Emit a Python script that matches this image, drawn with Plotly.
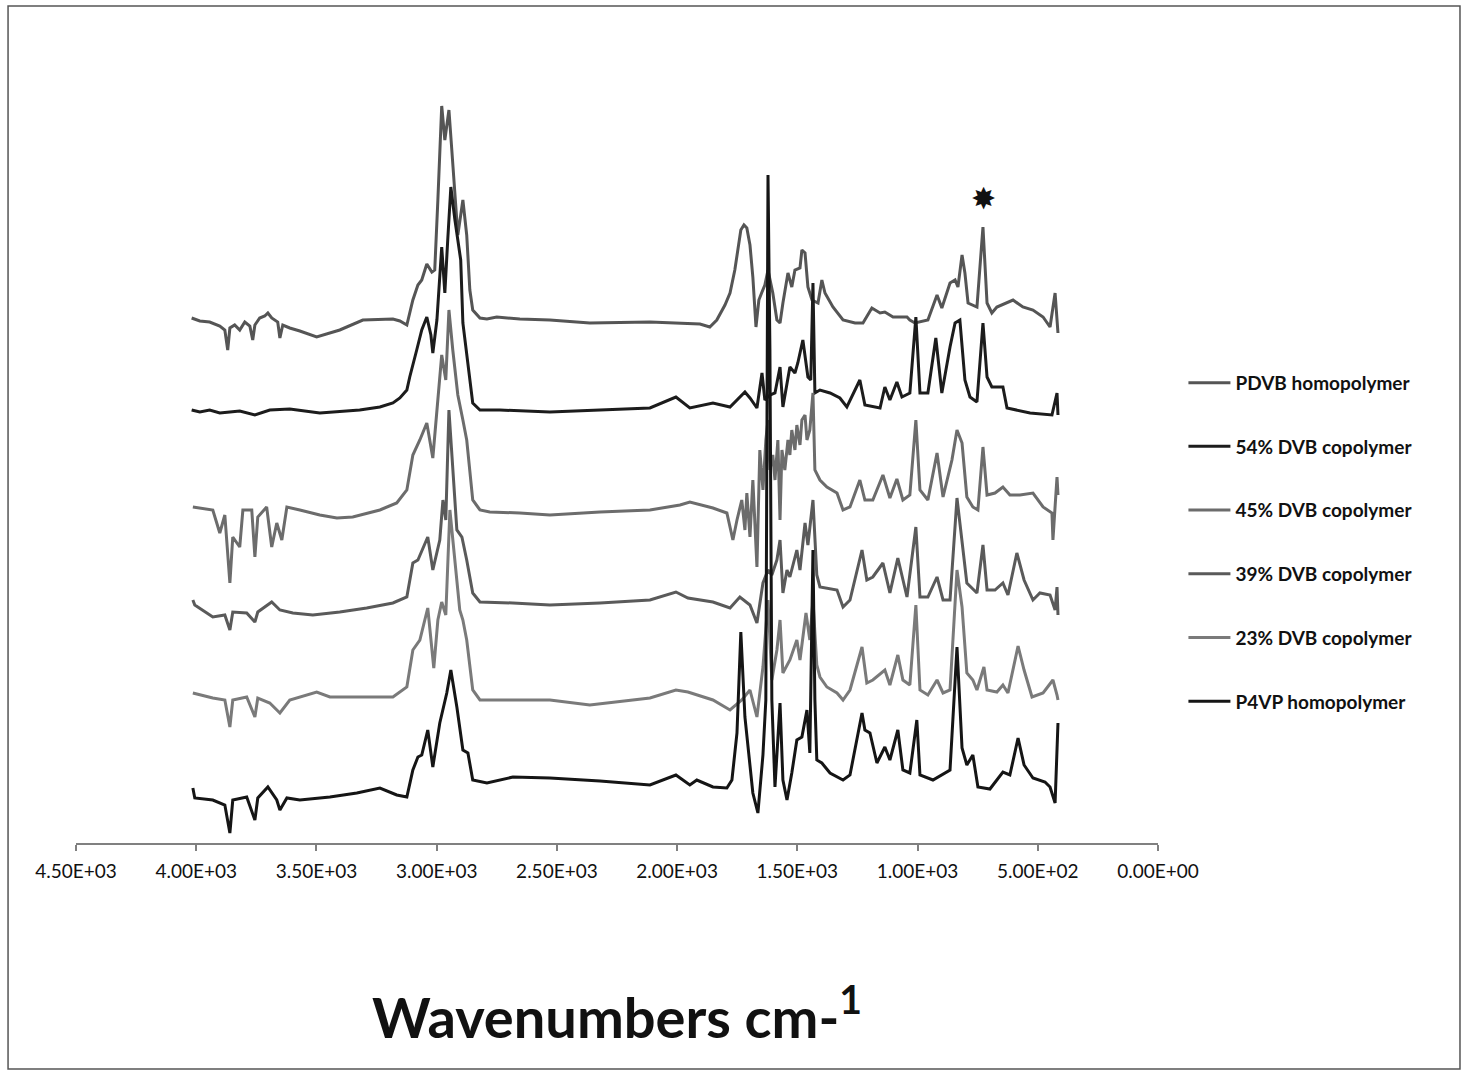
import plotly.graph_objects as go

# ---------------- data (wavenumber cm-1, stacked absorbance a.u.) ----------------
series_names = ["PDVB homopolymer", "54% DVB copolymer", "45% DVB copolymer",
                "39% DVB copolymer", "23% DVB copolymer", "P4VP homopolymer"]

pdvb_wn = [4019, 3985, 3944, 3902, 3881, 3869, 3860, 3840, 3819, 3798, 3777, 3765, 3756, 3736, 3715, 3702,
           3686, 3661, 3652, 3640, 3611, 3569, 3499, 3403, 3307, 3182, 3153, 3124, 3099, 3078, 3062, 3041,
           3020, 3008, 2995, 2979, 2966, 2958, 2949, 2937, 2924, 2912, 2891, 2875, 2862, 2850, 2820, 2791,
           2750, 2654, 2529, 2363, 2113, 1988, 1905, 1864, 1835, 1801, 1780, 1760, 1747, 1735, 1722, 1710,
           1697, 1685, 1672, 1660, 1647, 1635, 1622, 1602, 1585, 1572, 1560, 1539, 1523, 1510, 1489, 1481,
           1468, 1456, 1439, 1414, 1398, 1385, 1352, 1310, 1260, 1227, 1190, 1156, 1136, 1102, 1044, 1032,
           1011, 957, 919, 899, 865, 844, 832, 815, 803, 790, 753, 728, 711, 691, 670, 603, 562, 520, 478,
           449, 428, 416]
pdvb_abs = [525, 522, 521, 517, 513, 493, 515, 518, 513, 521, 517, 503, 518, 525, 527, 530,
            525, 521, 505, 518, 515, 512, 506, 513, 523, 524, 522, 518, 543, 558, 563, 579,
            571, 573, 643, 737, 703, 718, 733, 693, 643, 608, 643, 608, 553, 533, 525, 524,
            526, 524, 523, 520, 521, 520, 519, 516, 523, 538, 550, 573, 593, 613, 618, 615,
            598, 566, 516, 543, 551, 558, 573, 550, 523, 520, 540, 570, 556, 573, 575, 593,
            590, 556, 543, 540, 563, 550, 536, 523, 520, 520, 535, 530, 531, 526, 526, 523,
            520, 523, 548, 535, 560, 563, 556, 588, 570, 540, 536, 616, 540, 530, 536, 543, 536, 533, 526,
            516, 550, 510]

dvb54_wn = [4019, 3985, 3944, 3902, 3860, 3819, 3756, 3694, 3611, 3486, 3320, 3236, 3182, 3153, 3124, 3112,
            3083, 3062, 3041, 3024, 3016, 2999, 2979, 2966, 2954, 2941, 2924, 2912, 2900, 2891, 2875, 2862,
            2850, 2820, 2737, 2529, 2321, 2113, 2005, 1947, 1851, 1780, 1718, 1697, 1668, 1647, 1635, 1614,
            1593, 1572, 1560, 1531, 1510, 1498, 1477, 1456, 1444, 1435, 1427, 1406, 1364, 1323, 1294, 1240,
            1219, 1156, 1136, 1115, 1086, 1065, 1032, 1007, 990, 957, 924, 899, 865, 844, 824, 803, 782, 753,
            728, 711, 691, 645, 628, 587, 532, 441, 420, 416]
dvb54_abs = [433, 431, 433, 430, 431, 432, 428, 433, 434, 430, 433, 436, 440, 445, 453, 466,
             493, 513, 526, 508, 490, 523, 596, 550, 603, 656, 623, 603, 583, 520, 490, 463,
             440, 433, 433, 431, 433, 435, 446, 435, 440, 436, 451, 445, 435, 470, 443, 448,
             450, 476, 436, 476, 470, 480, 503, 466, 463, 560, 450, 453, 450, 445, 436, 463,
             438, 435, 456, 443, 461, 446, 450, 526, 450, 450, 505, 450, 496, 520, 523, 463, 446, 441,
             520, 466, 456, 456, 435, 433, 430, 428, 450, 428]

dvb45_wn = [4014, 3931, 3902, 3881, 3860, 3848, 3819, 3806, 3769, 3756, 3744, 3707, 3686, 3665, 3644, 3623,
            3569, 3486, 3415, 3349, 3236, 3166, 3124, 3099, 3070, 3041, 3016, 2995, 2979, 2962, 2949, 2933,
            2912, 2891, 2875, 2850, 2820, 2779, 2654, 2529, 2321, 2113, 1988, 1947, 1851, 1793, 1768, 1751,
            1731, 1718, 1710, 1697, 1685, 1668, 1656, 1643, 1631, 1622, 1614, 1602, 1593, 1581, 1572, 1564,
            1552, 1539, 1531, 1523, 1510, 1502, 1489, 1481, 1468, 1460, 1448, 1435, 1427, 1406, 1377, 1335,
            1310, 1281, 1240, 1219, 1186, 1144, 1115, 1086, 1061, 1032, 1007, 990, 957, 919, 894, 857, 836,
            815, 795, 770, 749, 728, 711, 678, 645, 616, 574, 520, 478, 441, 437, 420, 416]
dvb45_abs = [336, 333, 310, 328, 260, 306, 296, 333, 333, 286, 326, 336, 296, 320, 303, 336,
             333, 328, 325, 326, 333, 340, 353, 388, 403, 420, 385, 443, 488, 463, 533, 493,
             448, 423, 403, 343, 333, 331, 330, 328, 331, 333, 338, 341, 335, 330, 303, 323,
             343, 313, 350, 306, 363, 276, 393, 353, 403, 423, 373, 388, 363, 403, 323, 393,
             373, 403, 388, 413, 393, 418, 398, 423, 428, 403, 413, 450, 373, 363, 356, 350,
             333, 336, 363, 343, 343, 368, 345, 364, 343, 348, 423, 353, 343, 390, 346, 383, 413,
             400, 346, 336, 333, 396, 348, 350, 356, 348, 348, 350, 336, 330, 303, 366, 348]

dvb39_wn = [4014, 4006, 3931, 3881, 3860, 3848, 3790, 3756, 3744, 3686, 3652, 3598, 3515, 3403, 3291, 3182,
            3124, 3099, 3078, 3037, 3016, 2987, 2974, 2962, 2949, 2933, 2916, 2895, 2875, 2850, 2820, 2683,
            2529, 2321, 2113, 2005, 1955, 1851, 1780, 1739, 1697, 1668, 1643, 1622, 1606, 1585, 1572, 1560,
            1543, 1531, 1502, 1489, 1468, 1456, 1435, 1419, 1406, 1335, 1310, 1281, 1231, 1211, 1186, 1144,
            1115, 1082, 1044, 1007, 990, 957, 919, 894, 865, 836, 815, 795, 753, 728, 711, 678, 645, 624,
            587, 557, 520, 491, 449, 428, 420, 416]
dvb39_abs = [243, 238, 226, 228, 213, 231, 230, 221, 231, 241, 233, 230, 228, 231, 235, 240,
             246, 280, 283, 306, 273, 303, 343, 323, 433, 373, 313, 306, 283, 250, 241, 240,
             238, 240, 243, 251, 245, 241, 235, 246, 238, 220, 260, 273, 268, 283, 303, 250,
             273, 266, 293, 273, 320, 298, 343, 268, 256, 253, 236, 243, 293, 263, 266, 280,
             250, 285, 246, 316, 246, 246, 266, 243, 243, 345, 300, 260, 250, 298, 253, 253, 260, 248,
             290, 263, 243, 250, 248, 233, 256, 228]

dvb23_wn = [4014, 3931, 3881, 3860, 3848, 3790, 3756, 3744, 3694, 3652, 3611, 3499, 3444, 3307, 3182, 3124,
            3099, 3070, 3037, 3012, 2995, 2979, 2962, 2945, 2924, 2904, 2891, 2875, 2850, 2820, 2683, 2529,
            2363, 2113, 2005, 1955, 1851, 1780, 1731, 1697, 1668, 1643, 1622, 1606, 1585, 1572, 1560, 1531,
            1502, 1489, 1464, 1448, 1435, 1419, 1406, 1377, 1335, 1310, 1281, 1231, 1211, 1186, 1136, 1115,
            1082, 1061, 1032, 1007, 990, 957, 919, 894, 865, 836, 815, 795, 770, 753, 724, 711, 670, 645,
            624, 582, 557, 524, 478, 437, 420, 416]
dvb23_abs = [150, 145, 143, 116, 143, 146, 126, 145, 140, 130, 143, 151, 146, 146, 146, 156,
             193, 203, 235, 175, 223, 241, 228, 333, 278, 233, 223, 203, 153, 143, 143, 143,
             138, 145, 153, 151, 143, 133, 143, 153, 126, 176, 243, 163, 193, 223, 170, 183,
             203, 183, 230, 203, 243, 178, 166, 156, 150, 143, 153, 196, 160, 163, 173, 158,
             188, 163, 158, 238, 153, 148, 163, 150, 153, 273, 236, 170, 163, 153, 176, 153, 151, 158,
             150, 197, 173, 146, 150, 163, 148, 143]

p4vp_wn = [4014, 4006, 3931, 3881, 3860, 3848, 3790, 3756, 3744, 3702, 3665, 3652, 3623, 3569, 3444, 3332,
           3236, 3166, 3124, 3099, 3078, 3062, 3037, 3016, 2987, 2958, 2941, 2916, 2891, 2870, 2850, 2791,
           2683, 2529, 2321, 2113, 2005, 1947, 1918, 1851, 1793, 1772, 1751, 1735, 1718, 1697, 1685, 1664,
           1643, 1631, 1622, 1614, 1606, 1593, 1572, 1560, 1543, 1523, 1502, 1481, 1460, 1448, 1435, 1427,
           1419, 1398, 1364, 1310, 1281, 1231, 1219, 1198, 1169, 1136, 1115, 1082, 1061, 1032, 1003, 990,
           936, 865, 836, 815, 795, 770, 749, 699, 645, 616, 582, 557, 520, 470, 449, 428, 420, 416]
p4vp_abs = [55, 45, 43, 38, 10, 43, 46, 23, 45, 56, 43, 33, 45, 43, 46, 50,
            55, 48, 46, 73, 86, 88, 113, 76, 120, 150, 173, 136, 93, 90, 63, 60,
            66, 65, 62, 58, 68, 58, 63, 56, 55, 63, 110, 211, 126, 76, 50, 30,
            88, 143, 668, 493, 143, 56, 140, 63, 43, 70, 103, 106, 133, 90, 293, 143,
            83, 80, 70, 63, 68, 130, 113, 110, 80, 96, 83, 113, 73, 70, 123, 68,
            63, 73, 196, 95, 78, 88, 56, 54, 71, 68, 105, 78, 65, 61, 56, 40, 103, 120]

series_wn = [pdvb_wn, dvb54_wn, dvb45_wn, dvb39_wn, dvb23_wn, p4vp_wn]
series_abs = [pdvb_abs, dvb54_abs, dvb45_abs, dvb39_abs, dvb23_abs, p4vp_abs]

tick_vals = [4500, 4000, 3500, 3000, 2500, 2000, 1500, 1000, 500, 0]
tick_text = ["4.50E+03", "4.00E+03", "3.50E+03", "3.00E+03", "2.50E+03",
             "2.00E+03", "1.50E+03", "1.00E+03", "5.00E+02", "0.00E+00"]

marked_peak_wn = 724
marked_peak_abs = 645

# ---------------- styling ----------------
colors = ["#555555", "#1c1c1c", "#6c6c6c", "#5a5a5a", "#7a7a7a", "#151515"]
FONT = "Lato, 'Open Sans', sans-serif"

fig = go.Figure()
for i, name in enumerate(series_names):
    fig.add_trace(go.Scatter(
        x=series_wn[i], y=series_abs[i], mode="lines", name=name,
        legendgroup=f"g{i}",
        line=dict(color=colors[i], width=3),
    ))

fig.add_annotation(x=marked_peak_wn, y=marked_peak_abs, xref="x", yref="y",
                   text="✸", showarrow=False, yanchor="middle",
                   font=dict(size=30, color="#111111", family="DejaVu Sans"))

fig.add_annotation(x=0.5, y=-0.217, xref="paper", yref="paper",
                   text="<b>Wavenumbers cm-<sup>1</sup></b>", showarrow=False,
                   xanchor="center", yanchor="middle",
                   font=dict(size=56, color="#111111", family=FONT))

fig.add_shape(type="rect", xref="paper", yref="paper",
              x0=-0.0628, x1=1.2791, y0=-0.2886, y1=1.069,
              line=dict(color="#555555", width=1.5), fillcolor="rgba(0,0,0,0)")

fig.update_layout(
    width=1467, height=1076,
    margin=dict(l=76, r=309, t=60, b=233),
    paper_bgcolor="white", plot_bgcolor="white",
    font=dict(family=FONT, color="#111111"),
    showlegend=True,
    legend=dict(
        x=1.0235, xanchor="left", y=0.612, yanchor="top",
        traceorder="grouped", tracegroupgap=36,
        font=dict(size=19, color="#111111", family=FONT, weight="bold"),
        itemwidth=42, bgcolor="rgba(0,0,0,0)",
    ),
    xaxis=dict(
        range=[4500, 0], tickvals=tick_vals, ticktext=tick_text,
        showgrid=False, zeroline=False, showline=True,
        linecolor="#808080", linewidth=1.5,
        ticks="outside", ticklen=6, tickcolor="#808080", tickwidth=1.5,
        ticklabelstandoff=4,
        tickfont=dict(size=19, color="#111111", family=FONT),
    ),
    yaxis=dict(range=[0, 783], visible=False),
)

fig.write_html("out.html")
